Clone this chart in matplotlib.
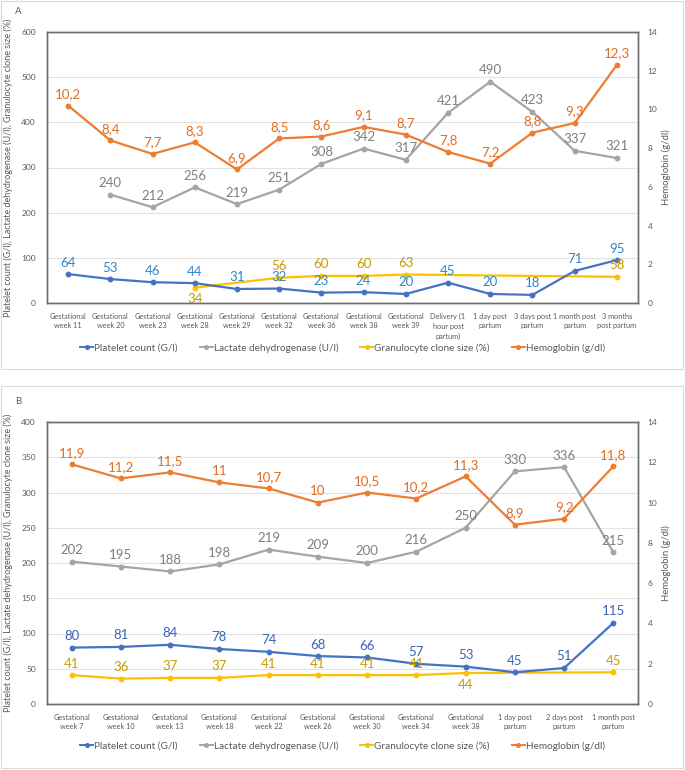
import numpy as np
import matplotlib.pyplot as plt
from matplotlib.patches import Rectangle
from matplotlib.lines import Line2D

plt.rcParams['font.family'] = ['Lato', 'DejaVu Sans']

nan = np.nan

# Panel A
cats_a = ['Gestational\nweek 11', 'Gestational\nweek 20', 'Gestational\nweek 23', 'Gestational\nweek 28',
          'Gestational\nweek 29', 'Gestational\nweek 32', 'Gestational\nweek 36', 'Gestational\nweek 38',
          'Gestational\nweek 39', 'Delivery (1\nhour post\npartum)', '1 day post\npartum',
          '3 days post\npartum', '1 month post\npartum', '3 months\npost partum']
platelet_a = [64, 53, 46, 44, 31, 32, 23, 24, 20, 45, 20, 18, 71, 95]
ldh_a = [nan, 240, 212, 256, 219, 251, 308, 342, 317, 421, 490, 423, 337, 321]
gran_a = [nan, nan, nan, 34, nan, 56, 60, 60, 63, nan, nan, nan, nan, 58]
hb_a = [10.2, 8.4, 7.7, 8.3, 6.9, 8.5, 8.6, 9.1, 8.7, 7.8, 7.2, 8.8, 9.3, 12.3]

# Panel B
cats_b = ['Gestational\nweek 7', 'Gestational\nweek 10', 'Gestational\nweek 13', 'Gestational\nweek 18',
          'Gestational\nweek 22', 'Gestational\nweek 26', 'Gestational\nweek 30', 'Gestational\nweek 34',
          'Gestational\nweek 38', '1 day post\npartum', '2 days post\npartum', '1 month post\npartum']
platelet_b = [80, 81, 84, 78, 74, 68, 66, 57, 53, 45, 51, 115]
ldh_b = [202, 195, 188, 198, 219, 209, 200, 216, 250, 330, 336, 215]
gran_b = [41, 36, 37, 37, 41, 41, 41, 41, 44, nan, nan, 45]
hb_b = [11.9, 11.2, 11.5, 11, 10.7, 10, 10.5, 10.2, 11.3, 8.9, 9.2, 11.8]

C_PLT = '#4472C4'
C_LDH = '#A5A5A5'
C_GRAN = '#FFC000'
C_HB = '#ED7D31'
TXT = '#595959'


def fmt(v):
    s = ('%.1f' % v).rstrip('0').rstrip('.')
    return s.replace('.', ',')


def draw_series(ax, vals, color, lab_color, below=()):
    y = np.array(vals, dtype=float)
    x = np.arange(len(y))
    ok = ~np.isnan(y)
    ax.plot(x[ok], y[ok], color=color, lw=1.6, marker='o', ms=3.2, zorder=3)
    for i in x[ok]:
        if i in below:
            off, va = -4, 'top'
        else:
            off, va = 4, 'bottom'
        ax.annotate(fmt(y[i]), (i, y[i]), xytext=(0, off), textcoords='offset points',
                    ha='center', va=va, fontsize=9.5, color=lab_color, zorder=4)


def panel(fig, rect, cats, plt_v, ldh_v, gran_v, hb_v, ymax, ystep, plt_lab, gran_below, legend_y):
    ax = fig.add_axes(rect)
    ax2 = ax.twinx()
    n = len(cats)
    ax.set_xlim(-0.5, n - 0.5)
    ax.set_ylim(0, ymax)
    ax.set_yticks(np.arange(0, ymax + 1, ystep))
    ax2.set_ylim(0, 14)
    ax2.set_yticks(np.arange(0, 15, 2))
    ax.grid(axis='y', color='#E3E3E3', lw=0.8)
    ax.set_axisbelow(True)
    ax.set_xticks(np.arange(n))
    ax.set_xticklabels(cats, fontsize=5.3, color=TXT, linespacing=1.45)
    for a in (ax, ax2):
        a.tick_params(length=0, labelsize=6, labelcolor=TXT)
        for s in a.spines.values():
            s.set_color('#6E6E6E')
            s.set_linewidth(1.0)
    ax.tick_params(axis='x', pad=7, labelsize=5.3)
    ax.tick_params(axis='y', pad=8)
    ax2.tick_params(axis='y', pad=7)
    ax.set_ylabel('Platelet count (G/l), Lactate dehydrogenase (U/l), Granulocyte clone size (%)',
                  fontsize=6.5, color=TXT, labelpad=6)
    ax2.set_ylabel('Hemoglobin (g/dl)', fontsize=6.9, color=TXT, labelpad=3)

    draw_series(ax, ldh_v, C_LDH, '#7F7F7F')
    draw_series(ax, gran_v, C_GRAN, '#C99A00', below=gran_below)
    draw_series(ax, plt_v, C_PLT, plt_lab)
    draw_series(ax2, hb_v, C_HB, '#E36C1F')

    handles = [Line2D([], [], color=c, lw=1.4, marker='o', ms=2.6) for c in (C_PLT, C_LDH, C_GRAN, C_HB)]
    names = ['Platelet count (G/l)', 'Lactate dehydrogenase (U/l)', 'Granulocyte clone size (%)',
             'Hemoglobin (g/dl)']
    fig.legend(handles, names, loc='center', bbox_to_anchor=(0.5, legend_y), ncol=4, frameon=False,
               fontsize=7.2, labelcolor=TXT, handlelength=1.3, handletextpad=0.1, columnspacing=2.2)


fig = plt.figure(figsize=(6.85, 7.70), dpi=100)
W, H = 685, 770

for y0, y1 in ((1, 369), (386, 768)):
    fig.patches.append(Rectangle((1 / W, 1 - y1 / H), 682 / W, (y1 - y0) / H, transform=fig.transFigure,
                                 fill=False, edgecolor='#DADADA', lw=0.8))

fig.text(15 / W, 1 - 12 / H, 'A', fontsize=7, color=TXT, va='center')
fig.text(15 / W, 1 - 402 / H, 'B', fontsize=7, color=TXT, va='center')

panel(fig, [47 / W, 1 - 303 / H, 591 / W, 271 / H], cats_a, platelet_a, ldh_a, gran_a, hb_a,
      600, 100, '#2E86D0', gran_below=(3,), legend_y=1 - 348 / H)
panel(fig, [47 / W, 1 - 704 / H, 591 / W, 282 / H], cats_b, platelet_b, ldh_b, gran_b, hb_b,
      400, 50, '#3B63B5', gran_below=(8,), legend_y=1 - 746 / H)

fig.savefig('out.png', dpi=100)
